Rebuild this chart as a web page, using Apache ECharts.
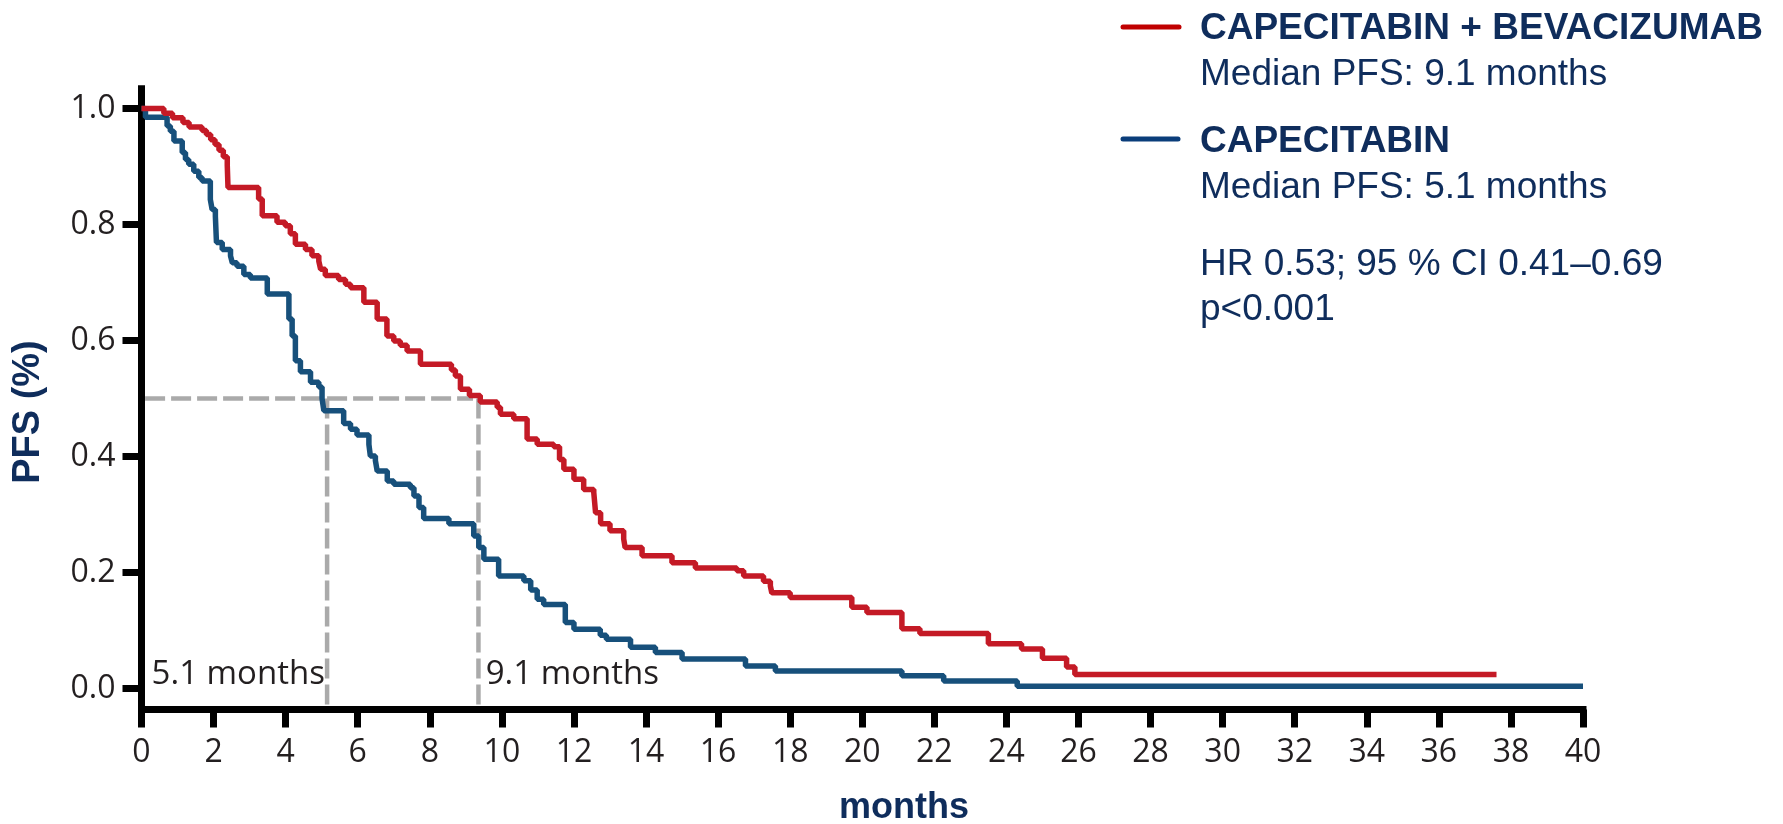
<!DOCTYPE html>
<html>
<head>
<meta charset="utf-8">
<script src="https://cdn.jsdelivr.net/npm/echarts@6/dist/echarts.min.js"></script>
<style>
html,body{margin:0;padding:0;background:#fff;}
#chart{width:1783px;height:824px;}
</style>
</head>
<body>
<div id="chart"></div>
<script>
// ---- data ----
const yTickValues = [0, 0.2, 0.4, 0.6, 0.8, 1.0];

const redName = 'CAPECITABIN + BEVACIZUMAB';
const redMedianText = 'Median PFS: 9.1 months';
const redTimes = [0, 0.62, 0.86, 1.15, 1.32, 1.68, 1.80, 1.92, 2.04, 2.15, 2.27, 2.38, 2.40, 3.25, 3.35, 3.76, 3.99, 4.13, 4.27, 4.55, 4.73, 4.92, 4.97, 5.10, 5.47, 5.66, 5.80, 6.17, 6.54, 6.81, 7.00, 7.18, 7.37, 7.74, 8.60, 8.71, 8.85, 9.10, 9.40, 9.87, 9.96, 10.33, 10.70, 10.98, 11.44, 11.60, 11.72, 12.00, 12.27, 12.55, 12.60, 12.74, 13.00, 13.38, 13.42, 13.89, 14.72, 15.37, 16.52, 16.71, 17.26, 17.45, 17.49, 18.00, 19.71, 20.13, 21.10, 21.60, 23.50, 24.42, 25.00, 25.67, 25.90, 37.6];
const redPFS   = [1.0, 0.992, 0.984, 0.976, 0.968, 0.962, 0.955, 0.946, 0.938, 0.928, 0.917, 0.902, 0.864, 0.844, 0.815, 0.804, 0.798, 0.784, 0.766, 0.757, 0.746, 0.737, 0.723, 0.712, 0.705, 0.697, 0.691, 0.666, 0.637, 0.608, 0.599, 0.592, 0.582, 0.559, 0.549, 0.539, 0.516, 0.505, 0.494, 0.485, 0.473, 0.465, 0.430, 0.421, 0.417, 0.395, 0.378, 0.361, 0.343, 0.338, 0.303, 0.284, 0.272, 0.258, 0.243, 0.229, 0.217, 0.208, 0.203, 0.194, 0.185, 0.177, 0.165, 0.157, 0.140, 0.131, 0.103, 0.095, 0.077, 0.068, 0.052, 0.037, 0.024, 0.024];

const blueName = 'CAPECITABIN';
const blueMedianText = 'Median PFS: 5.1 months';
const blueTimes = [0, 0.11, 0.71, 0.80, 0.90, 1.13, 1.22, 1.31, 1.45, 1.59, 1.68, 1.91, 1.96, 2.05, 2.08, 2.24, 2.47, 2.52, 2.65, 2.84, 3.02, 3.49, 4.09, 4.18, 4.27, 4.41, 4.69, 4.92, 5.01, 5.06, 5.61, 5.80, 5.98, 6.31, 6.35, 6.49, 6.54, 6.82, 7.00, 7.46, 7.56, 7.70, 7.83, 8.53, 9.22, 9.36, 9.50, 9.91, 10.61, 10.80, 10.98, 11.16, 11.76, 12.00, 12.73, 12.90, 13.57, 14.26, 15.00, 16.76, 17.59, 21.10, 22.26, 24.30, 40.0];
const bluePFS   = [1.0, 0.985, 0.970, 0.961, 0.944, 0.924, 0.912, 0.904, 0.892, 0.881, 0.875, 0.843, 0.826, 0.814, 0.769, 0.757, 0.746, 0.734, 0.728, 0.714, 0.708, 0.680, 0.637, 0.608, 0.565, 0.546, 0.528, 0.520, 0.500, 0.479, 0.457, 0.447, 0.437, 0.421, 0.401, 0.393, 0.375, 0.358, 0.352, 0.346, 0.332, 0.312, 0.293, 0.284, 0.263, 0.243, 0.223, 0.194, 0.186, 0.170, 0.154, 0.145, 0.114, 0.102, 0.092, 0.085, 0.071, 0.062, 0.051, 0.039, 0.030, 0.022, 0.013, 0.004, 0.004];

const medianLevel = 0.5;
const medianLineStart = 0.1;
const medianLineEnd = 9.2;
const medianMarks = [5.15, 9.35];
const medianLabels = ['5.1 months', '9.1 months'];
const medianLabelPos = [[0.28, 0.024], [9.55, 0.024]];

const statsLines = ['HR 0.53; 95 % CI 0.41\u20130.69', 'p<0.001'];
const yAxisTitle = 'PFS (%)';
const xAxisTitle = 'months';

// ---- chart ----
const navy = '#0f2d5c';
const redCurve = '#c41a26';
const blueCurve = '#17507b';
const axisFont = '"Open Sans", "Noto Sans", sans-serif';
const arial = '"Liberation Sans", Arial, sans-serif';
const yMin = -0.036, yMax = 1.034;

const zip = (a, b) => a.map((v, i) => [v, b[i]]);
const dashStyle = {color: '#aaaaaa', width: 4.5, type: [20, 6]};

const chart = echarts.init(document.getElementById('chart'));
chart.setOption({
  animation: false,
  backgroundColor: '#ffffff',
  grid: {left: 141.5, right: 200, top: 88.8, bottom: 114.6, containLabel: false, outerBoundsMode: 'none'},
  xAxis: {
    type: 'value', min: 0, max: 40, interval: 2,
    axisLine: {onZero: false, lineStyle: {color: '#000', width: 7, cap: 'square'}},
    axisTick: {show: true, length: 18, lineStyle: {color: '#000', width: 7}},
    axisLabel: {fontFamily: axisFont, fontSize: 32, fontWeight: 500, color: '#231f20', margin: 27},
    splitLine: {show: false}
  },
  yAxis: {
    type: 'value', min: yMin, max: yMax,
    axisLine: {show: true, onZero: false, lineStyle: {color: '#000', width: 7, cap: 'square'}},
    axisTick: {show: true, length: 19, customValues: yTickValues, lineStyle: {color: '#000', width: 7}},
    axisLabel: {customValues: yTickValues, formatter: v => Number(v).toFixed(1),
      fontFamily: axisFont, fontSize: 32, fontWeight: 500, color: '#231f20', margin: 26},
    splitLine: {show: false}
  },
  series: [
    {type: 'line', name: 'median-h', data: [[medianLineStart, medianLevel], [medianLineEnd, medianLevel]],
      showSymbol: false, lineStyle: dashStyle, z: 1, silent: true},
    {type: 'line', name: 'median-v1', data: [[medianMarks[0], medianLevel], [medianMarks[0], yMin]],
      showSymbol: false, lineStyle: dashStyle, z: 1, silent: true},
    {type: 'line', name: 'median-v2', data: [[medianMarks[1], medianLevel], [medianMarks[1], yMin]],
      showSymbol: false, lineStyle: dashStyle, z: 1, silent: true},
    {type: 'line', name: redName, step: 'end', data: zip(redTimes, redPFS), showSymbol: false,
      lineStyle: {color: redCurve, width: 5.5}, z: 3, clip: false},
    {type: 'line', name: blueName, step: 'end', data: zip(blueTimes, bluePFS), showSymbol: false,
      lineStyle: {color: blueCurve, width: 5.5}, z: 2, clip: false}
  ]
});

const px = p => chart.convertToPixel({gridIndex: 0}, p);
const g = [];
medianLabels.forEach((t, i) => {
  const p = px(medianLabelPos[i]);
  g.push({type: 'text', x: p[0], y: p[1], z: 10,
    style: {text: t, font: '500 33px ' + axisFont, fill: '#231f20', align: 'left', verticalAlign: 'middle'}});
});
// legend / annotation block
const legendText = (txt, y, bold) => ({type: 'text', x: 1200, y: y,
  style: {text: txt, font: (bold ? 'bold ' : '') + '37px ' + arial, fill: navy, align: 'left', verticalAlign: 'middle'}});
g.push({type: 'line', shape: {x1: 1123, y1: 27, x2: 1179, y2: 27}, style: {stroke: '#c00000', lineWidth: 5, lineCap: 'round'}});
g.push(legendText(redName, 29, true));
g.push(legendText(redMedianText, 75, false));
g.push({type: 'line', shape: {x1: 1123, y1: 139, x2: 1178, y2: 139}, style: {stroke: '#0a3d7a', lineWidth: 5, lineCap: 'round'}});
g.push(legendText(blueName, 142, true));
g.push(legendText(blueMedianText, 188, false));
g.push(legendText(statsLines[0], 265, false));
g.push(legendText(statsLines[1], 310, false));
// axis titles
g.push({type: 'text', x: 29, y: 412, rotation: Math.PI / 2, style: {text: yAxisTitle, font: 'bold 38px ' + arial, fill: navy, align: 'center', verticalAlign: 'middle'}});
g.push({type: 'text', x: 904, y: 808, style: {text: xAxisTitle, font: 'bold 36px ' + arial, fill: navy, align: 'center', verticalAlign: 'middle'}});
chart.setOption({graphic: g});
</script>
</body>
</html>
